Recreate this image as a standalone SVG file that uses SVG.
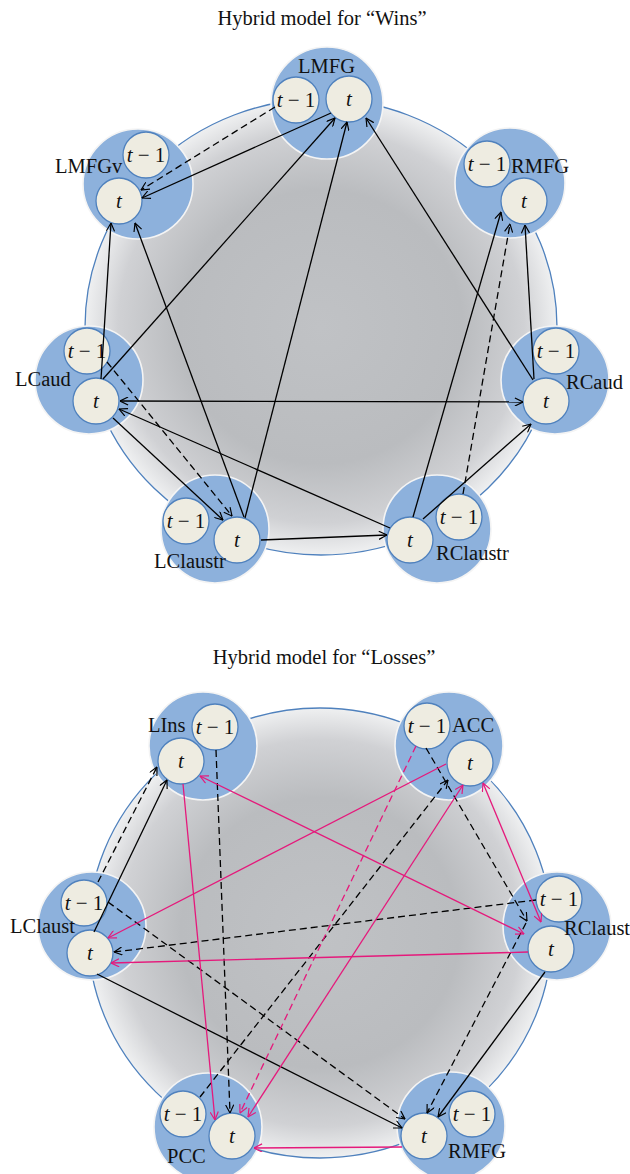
<svg xmlns="http://www.w3.org/2000/svg" width="630" height="1174" viewBox="0 0 630 1174">
<style>
.title{font-family:"Liberation Serif","Times New Roman",serif;font-size:20.5px;fill:#111;text-anchor:middle}
.lbl{font-family:"Liberation Serif","Times New Roman",serif;font-size:20.5px;fill:#111}
.ct{font-family:"Liberation Serif","Times New Roman",serif;font-size:21px;fill:#111;text-anchor:middle}
.it{font-style:italic}
.bg{fill:url(#gg);stroke:#4f81bd;stroke-width:1.3}
.big{fill:#8db1dc;stroke:#f4f4f4;stroke-width:1.6}
.sm{fill:#eeece1;stroke:#4f81bd;stroke-width:1.3}
.k{stroke:#000;stroke-width:1.3;fill:none;marker-end:url(#ak)}
.kd{stroke:#000;stroke-width:1.3;fill:none;stroke-dasharray:7 4;marker-end:url(#ak)}
.kb{stroke:#000;stroke-width:1.3;fill:none;marker-end:url(#ak);marker-start:url(#ak)}
.m{stroke:#e5197b;stroke-width:1.3;fill:none;marker-end:url(#am)}
.md{stroke:#e5197b;stroke-width:1.3;fill:none;stroke-dasharray:7 4;marker-end:url(#am)}
.mb{stroke:#e5197b;stroke-width:1.3;fill:none;marker-end:url(#am);marker-start:url(#am)}
</style>
<defs>
<radialGradient id="gg" cx="0.5" cy="0.5" r="0.5">
<stop offset="0" stop-color="#c0c2c5"/>
<stop offset="0.6" stop-color="#babcbf"/>
<stop offset="0.86" stop-color="#d0d1d4"/>
<stop offset="1" stop-color="#eff0f1"/>
</radialGradient>
<marker id="ak" viewBox="0 0 10 10" refX="9.5" refY="5" markerWidth="9" markerHeight="9" markerUnits="userSpaceOnUse" orient="auto-start-reverse">
<path d="M0.5,0.5 L9.5,5 L0.5,9.5" fill="none" stroke="#000" stroke-width="1.3"/>
</marker>
<marker id="am" viewBox="0 0 10 10" refX="9.5" refY="5" markerWidth="9" markerHeight="9" markerUnits="userSpaceOnUse" orient="auto-start-reverse">
<path d="M0.5,0.5 L9.5,5 L0.5,9.5" fill="none" stroke="#e5197b" stroke-width="1.3"/>
</marker>
</defs>
<rect width="630" height="1174" fill="#fff"/>

<!-- Top diagram -->
<text class="title" x="322" y="25">Hybrid model for “Wins”</text>
<ellipse class="bg" cx="321" cy="327" rx="236" ry="228"/>

<g id="w-LMFG">
<circle class="big" cx="327" cy="103" r="56"/>
<circle class="sm" cx="296" cy="100" r="23"/>
<circle class="sm" cx="349" cy="99" r="23"/>
<text class="lbl" x="298" y="73">LMFG</text>
<text class="ct" x="296" y="107"><tspan class="it">t</tspan> − 1</text>
<text class="ct it" x="349" y="106">t</text>
</g>
<g id="w-LMFGv">
<circle class="big" cx="138" cy="184" r="55"/>
<circle class="sm" cx="146" cy="155" r="23"/>
<circle class="sm" cx="119" cy="201" r="23"/>
<text class="lbl" x="55" y="173">LMFGv</text>
<text class="ct" x="146" y="162"><tspan class="it">t</tspan> − 1</text>
<text class="ct it" x="119" y="208">t</text>
</g>
<g id="w-RMFG">
<circle class="big" cx="510" cy="183" r="55"/>
<circle class="sm" cx="487" cy="164" r="23"/>
<circle class="sm" cx="524" cy="201" r="23"/>
<text class="lbl" x="511" y="173">RMFG</text>
<text class="ct" x="487" y="171"><tspan class="it">t</tspan> − 1</text>
<text class="ct it" x="524" y="208">t</text>
</g>
<g id="w-LCaud">
<circle class="big" cx="89" cy="380" r="54"/>
<circle class="sm" cx="87" cy="351" r="23"/>
<circle class="sm" cx="96" cy="401" r="23"/>
<text class="lbl" x="15" y="386">LCaud</text>
<text class="ct" x="87" y="358"><tspan class="it">t</tspan> − 1</text>
<text class="ct it" x="96" y="408">t</text>
</g>
<g id="w-RCaud">
<circle class="big" cx="555" cy="380" r="54"/>
<circle class="sm" cx="556" cy="351" r="23"/>
<circle class="sm" cx="546" cy="401" r="23"/>
<text class="lbl" x="566" y="389">RCaud</text>
<text class="ct" x="556" y="358"><tspan class="it">t</tspan> − 1</text>
<text class="ct it" x="546" y="408">t</text>
</g>
<g id="w-LClaustr">
<circle class="big" cx="215" cy="529" r="54"/>
<circle class="sm" cx="186" cy="521" r="23"/>
<circle class="sm" cx="237" cy="540" r="23"/>
<text class="lbl" x="154" y="568">LClaustr</text>
<text class="ct" x="186" y="528"><tspan class="it">t</tspan> − 1</text>
<text class="ct it" x="237" y="547">t</text>
</g>
<g id="w-RClaustr">
<circle class="big" cx="437" cy="529" r="54"/>
<circle class="sm" cx="459" cy="517" r="23"/>
<circle class="sm" cx="410" cy="540" r="23"/>
<text class="lbl" x="436" y="560">RClaustr</text>
<text class="ct" x="459" y="524"><tspan class="it">t</tspan> − 1</text>
<text class="ct it" x="410" y="547">t</text>
</g>

<g id="w-connectors">
<line class="kd" x1="275" y1="107" x2="141" y2="190"/>
<line class="k" x1="331" y1="113" x2="142" y2="198"/>
<line class="k" x1="103" y1="379" x2="335" y2="118"/>
<line class="k" x1="245" y1="518" x2="347" y2="122"/>
<line class="k" x1="533" y1="380" x2="366" y2="118"/>
<line class="k" x1="101" y1="379" x2="111" y2="223"/>
<line class="k" x1="244" y1="517" x2="135" y2="223"/>
<line class="k" x1="413" y1="517" x2="501" y2="212"/>
<line class="kd" x1="463" y1="494" x2="510" y2="224"/>
<line class="k" x1="534" y1="379" x2="525" y2="225"/>
<line class="kb" x1="120" y1="401" x2="523" y2="402"/>
<line class="k" x1="390" y1="528" x2="119" y2="409"/>
<line class="k" x1="113" y1="418" x2="223" y2="520"/>
<line class="kd" x1="107" y1="362" x2="232" y2="516"/>
<line class="k" x1="261" y1="540" x2="387" y2="535"/>
<line class="k" x1="423" y1="519" x2="531" y2="424"/>
</g>

<!-- Bottom diagram -->
<text class="title" x="324" y="664">Hybrid model for “Losses”</text>
<ellipse class="bg" cx="320" cy="933" rx="232" ry="225"/>

<g id="l-LIns">
<circle class="big" cx="203" cy="746" r="54"/>
<circle class="sm" cx="215" cy="727" r="23"/>
<circle class="sm" cx="181" cy="761" r="23"/>
<text class="lbl" x="148" y="732">LIns</text>
<text class="ct" x="215" y="734"><tspan class="it">t</tspan> − 1</text>
<text class="ct it" x="181" y="768">t</text>
</g>
<g id="l-ACC">
<circle class="big" cx="449" cy="746" r="54"/>
<circle class="sm" cx="427" cy="726" r="23"/>
<circle class="sm" cx="470" cy="763" r="23"/>
<text class="lbl" x="452" y="732">ACC</text>
<text class="ct" x="427" y="733"><tspan class="it">t</tspan> − 1</text>
<text class="ct it" x="470" y="770">t</text>
</g>
<g id="l-LClaust">
<circle class="big" cx="92" cy="926" r="54"/>
<circle class="sm" cx="84" cy="903" r="23"/>
<circle class="sm" cx="90" cy="953" r="23"/>
<text class="lbl" x="10" y="933">LClaust</text>
<text class="ct" x="84" y="910"><tspan class="it">t</tspan> − 1</text>
<text class="ct it" x="90" y="960">t</text>
</g>
<g id="l-RClaust">
<circle class="big" cx="557" cy="926" r="54"/>
<circle class="sm" cx="559" cy="899" r="23"/>
<circle class="sm" cx="551" cy="949" r="23"/>
<text class="lbl" x="564" y="935">RClaust</text>
<text class="ct" x="559" y="906"><tspan class="it">t</tspan> − 1</text>
<text class="ct it" x="551" y="956">t</text>
</g>
<g id="l-PCC">
<circle class="big" cx="208" cy="1127" r="54"/>
<circle class="sm" cx="183" cy="1114" r="23"/>
<circle class="sm" cx="232" cy="1136" r="23"/>
<text class="lbl" x="167" y="1163">PCC</text>
<text class="ct" x="183" y="1121"><tspan class="it">t</tspan> − 1</text>
<text class="ct it" x="232" y="1143">t</text>
</g>
<g id="l-RMFG">
<circle class="big" cx="451" cy="1126" r="54"/>
<circle class="sm" cx="472" cy="1114" r="23"/>
<circle class="sm" cx="424" cy="1136" r="23"/>
<text class="lbl" x="448" y="1158">RMFG</text>
<text class="ct" x="472" y="1121"><tspan class="it">t</tspan> − 1</text>
<text class="ct it" x="424" y="1143">t</text>
</g>

<g id="l-connectors">
<line class="kd" x1="98" y1="882" x2="157" y2="767"/>
<line class="k" x1="94" y1="932" x2="167" y2="780"/>
<line class="kd" x1="216" y1="750" x2="230" y2="1113"/>
<line class="kd" x1="200" y1="1097" x2="448" y2="780"/>
<line class="kd" x1="426" y1="748" x2="527" y2="921"/>
<line class="kd" x1="536" y1="900" x2="114" y2="952"/>
<line class="kd" x1="108" y1="902" x2="405" y2="1119"/>
<line class="k" x1="97" y1="974" x2="402" y2="1128"/>
<line class="kd" x1="526" y1="923" x2="427" y2="1113"/>
<line class="k" x1="545" y1="972" x2="438" y2="1117"/>
<line class="m" x1="183" y1="784" x2="215" y2="1120"/>
<line class="mb" x1="200" y1="776" x2="524" y2="934"/>
<line class="m" x1="446" y1="764" x2="108" y2="938"/>
<line class="md" x1="416" y1="746" x2="240" y2="1113"/>
<line class="mb" x1="248" y1="1117" x2="463" y2="785"/>
<line class="mb" x1="483" y1="783" x2="541" y2="922"/>
<line class="m" x1="528" y1="952" x2="111" y2="963"/>
<line class="m" x1="402" y1="1147" x2="254" y2="1148"/>
</g>
</svg>
